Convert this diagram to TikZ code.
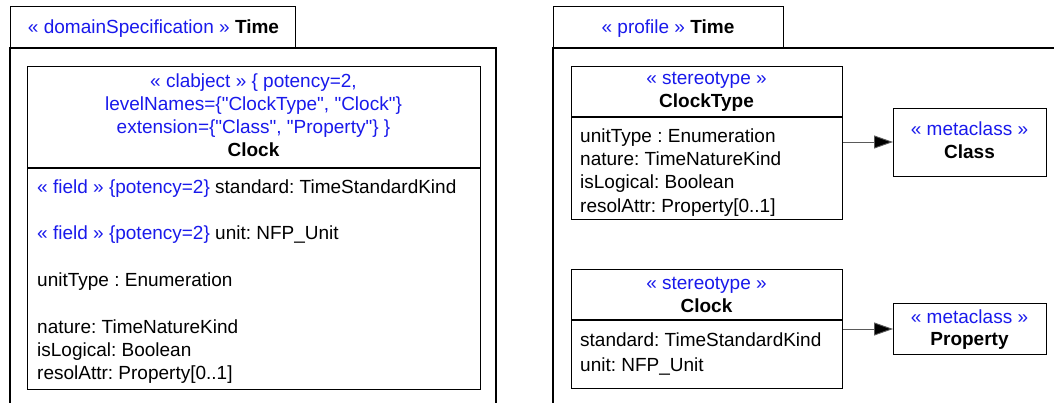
\documentclass[tikz,border=0pt]{standalone}
\usepackage{fontspec}
\setmainfont{Liberation Sans}[Ligatures=TeXOff]
\usetikzlibrary{arrows.meta}
\definecolor{umlblue}{RGB}{25,25,235}
\definecolor{arrgray}{RGB}{90,90,90}
\tikzset{
  frameline/.style={draw=black, line width=1.4pt},
  boxline/.style={draw=black, line width=1.1pt},
  box/.style={boxline, rectangle, inner sep=0pt, anchor=north west},
  txt/.style={anchor=base, inner sep=0pt, font=\fontsize{19}{23}\selectfont},
  ltxt/.style={anchor=base west, inner sep=0pt, font=\fontsize{19}{23}\selectfont},
  st/.style={text=umlblue},
  ext/.style={draw=arrgray, line width=0.9pt, -{Triangle[length=19pt,width=13pt,fill=black]}},
}
\begin{document}
\frenchspacing
\begin{tikzpicture}[x=1pt, y=-1pt]
\useasboundingbox (0,0) rectangle (1054,403);

% ---------- left package ----------
\node[box, frameline, minimum width=285pt, minimum height=42pt] (tabL) at (10,6) {};
\node[txt] (tabLtxt) at (153.5,34) {\textcolor{umlblue}{« domainSpecification »} \textbf{Time}};
\coordinate (pLbl) at (10,403);
\coordinate (pLtl) at (10,48);
\coordinate (pLtr) at (496,48);
\coordinate (pLbr) at (496,403);
\draw[frameline] (pLbl) -- (pLtl) -- (pLtr) -- (pLbr);

% Clock clabject
\node[box, minimum width=453pt, minimum height=323pt] (clockL) at (27,66) {};
\draw[boxline] (27,168) -- (480,168);
\node[txt, st] (cl1) at (253.5,88) {« clabject » \{ potency=2,};
\node[txt, st] (cl2) at (253.5,111) {levelNames=\{"ClockType", "Clock"\}};
\node[txt, st] (cl3) at (253.5,134) {extension=\{"Class", "Property"\} \}};
\node[txt] (cl4) at (253.5,157) {\textbf{Clock}};
\node[ltxt] (a1) at (37,194) {\textcolor{umlblue}{« field » \{potency=2\}} standard: TimeStandardKind};
\node[ltxt] (a2) at (37,240) {\textcolor{umlblue}{« field » \{potency=2\}} unit: NFP\_Unit};
\node[ltxt] (a3) at (37,287) {unitType : Enumeration};
\node[ltxt] (a4) at (37,333) {nature: TimeNatureKind};
\node[ltxt] (a5) at (37,356) {isLogical: Boolean};
\node[ltxt] (a6) at (37,379) {resolAttr: Property[0..1]};

% ---------- right package ----------
\node[box, frameline, minimum width=230pt, minimum height=42pt] (tabR) at (553,6) {};
\node[txt] (tabRtxt) at (668,34) {\textcolor{umlblue}{« profile »} \textbf{Time}};
\coordinate (pRbl) at (553,403);
\coordinate (pRtl) at (553,48);
\coordinate (pRtr) at (1054,48);
\draw[frameline] (pRbl) -- (pRtl) -- (pRtr);

% ClockType stereotype
\node[box, minimum width=271pt, minimum height=153pt] (ctype) at (571,66) {};
\draw[boxline] (571,117) -- (842,117);
\node[txt, st] (ct1) at (706.5,85) {« stereotype »};
\node[txt] (ct2) at (706.5,108) {\textbf{ClockType}};
\node[ltxt] (ct3) at (580,143) {unitType : Enumeration};
\node[ltxt] (ct4) at (580,166) {nature: TimeNatureKind};
\node[ltxt] (ct5) at (580,189) {isLogical: Boolean};
\node[ltxt] (ct6) at (580,213) {resolAttr: Property[0..1]};

% Class metaclass
\node[box, minimum width=153pt, minimum height=68pt] (mclass) at (893,108) {};
\node[txt, st] (mc1) at (969.5,136) {« metaclass »};
\node[txt] (mc2) at (969.5,159) {\textbf{Class}};

% Clock stereotype
\node[box, minimum width=271pt, minimum height=119pt] (cst) at (571,269) {};
\draw[boxline] (571,320) -- (842,320);
\node[txt, st] (cs1) at (706.5,289) {« stereotype »};
\node[txt] (cs2) at (706.5,312) {\textbf{Clock}};
\node[ltxt] (cs3) at (580,346) {standard: TimeStandardKind};
\node[ltxt] (cs4) at (580,371) {unit: NFP\_Unit};

% Property metaclass
\node[box, minimum width=153pt, minimum height=51pt] (mprop) at (893,303) {};
\node[txt, st] (mp1) at (969.5,323) {« metaclass »};
\node[txt] (mp2) at (969.5,345) {\textbf{Property}};

% extensions
\draw[ext] (ctype.east |- 0,142) -- (mclass.west |- 0,142);
\draw[ext] (cst.east |- 0,329) -- (mprop.west |- 0,329);
\end{tikzpicture}
\end{document}
